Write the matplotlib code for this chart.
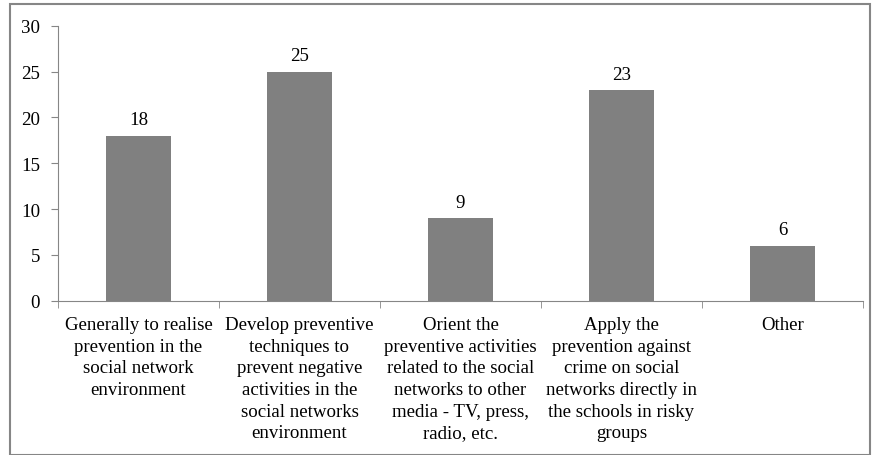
import matplotlib.pyplot as plt
from matplotlib.patches import Rectangle

# data
categories = [
    "Generally to realise\nprevention in the\nsocial network\nenvironment",
    "Develop preventive\ntechniques to\nprevent negative\nactivities in the\nsocial networks\nenvironment",
    "Orient the\npreventive activities\nrelated to the social\nnetworks to other\nmedia - TV, press,\nradio, etc.",
    "Apply the\nprevention against\ncrime on social\nnetworks directly in\nthe schools in risky\ngroups",
    "Other",
]
values = [18, 25, 9, 23, 6]
y_ticks = [0, 5, 10, 15, 20, 25, 30]

plt.rcParams['font.family'] = ['Liberation Serif', 'DejaVu Serif']
axis_col = '#868686'
fs = 13.6

fig = plt.figure(figsize=(8.72, 4.56), dpi=100)
ax = fig.add_axes([0.0665, 0.3384, 0.9232, 0.603])

x = list(range(len(values)))
ax.bar(x, values, width=0.4, color='#808080', zorder=2)
for xi, v in zip(x, values):
    ax.text(xi, v + 0.8, str(v), ha='center', va='bottom', fontsize=fs)

ax.set_xlim(-0.5, len(values) - 0.5)
ax.set_ylim(0, 30)
ax.set_yticks(y_ticks)
ax.set_yticklabels([str(t) for t in y_ticks], fontsize=fs)

ax.set_xticks(x)
ax.set_xticklabels(categories, fontsize=fs, linespacing=1.36, va='top')
ax.tick_params(axis='x', which='major', length=0, pad=11)
ax.set_xticks([i - 0.5 for i in range(len(values) + 1)], minor=True)
ax.tick_params(axis='x', which='minor', length=5, color=axis_col, direction='out')
ax.tick_params(axis='y', length=5, color=axis_col, direction='out', pad=8)

for s in ['top', 'right']:
    ax.spines[s].set_visible(False)
for s in ['left', 'bottom']:
    ax.spines[s].set_color(axis_col)

# outer frame
fig.patches.append(Rectangle((0.011, 0.0), 0.987, 0.988, transform=fig.transFigure,
                             fill=False, edgecolor=axis_col, linewidth=1.5))

fig.savefig('out.png', dpi=100)
